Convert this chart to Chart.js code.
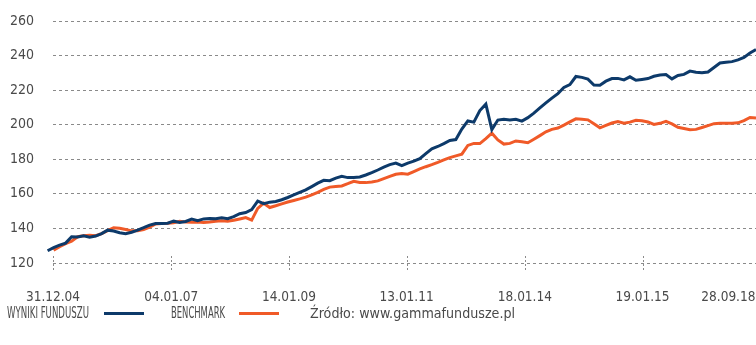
<!DOCTYPE html>
<html lang="pl">
<head>
<meta charset="utf-8">
<title>Wyniki funduszu</title>
<script src="https://cdn.jsdelivr.net/npm/chart.js@4"></script>
<style>
    html, body {
        margin: 0;
        padding: 0;
        background: #fff;
        overflow: hidden;
    }
    .wrap {
        position: relative;
        width: 756px;
        height: 345px;
    }
    #fundChart {
        position: absolute;
        left: 0;
        top: 0;
    }
    .legend {
        position: absolute;
        top: 303px;
        left: 0;
        width: 756px;
        height: 20px;
        font-family: 'DejaVu Sans Condensed', 'Liberation Sans Narrow', sans-serif;
        font-size: 13.5px;
        color: #4a4a4a;
    }
    .legend span {
        position: absolute;
        top: 0;
        line-height: 20px;
        white-space: nowrap;
        transform-origin: 0 50%;
    }
    .legend span.caps {
        font-size: 15px;
    }
    .legend i {
        position: absolute;
        top: 9px;
        height: 3px;
        width: 40px;
    }
</style>
</head>
<body>
<div class="wrap">
    <canvas id="fundChart" width="756" height="312"></canvas>
    <div class="legend">
        <span class="caps" style="left:7px" data-w="82">WYNIKI FUNDUSZU</span>
        <i style="left:104px;background:#0d3a6a"></i>
        <span class="caps" style="left:171px" data-w="54">BENCHMARK</span>
        <i style="left:239px;background:#f05a28"></i>
        <span style="left:310px" data-w="205">Źródło: www.gammafundusze.pl</span>
    </div>
</div>
<script>
// Axis dates and where they sit along the sample index
const dateLabels = ['31.12.04', '04.01.07', '14.01.09', '13.01.11', '18.01.14', '19.01.15', '28.09.18'];
const datePositions = [0.9, 20.6, 40.2, 59.8, 79.5, 99.1, 113.4];
const markedDates = 6; // the last date has no tick mark

const yTicks = [120, 140, 160, 180, 200, 220, 240, 260];

// Fund results (index values)
const fundValues = [
    127.1, 128.9, 130.3, 131.5, 135.2, 135.1, 135.8, 134.9, 135.6, 137.0,
    139.0, 138.5, 137.5, 137.0, 137.8, 139.0, 140.4, 141.9, 142.8, 142.9,
    143.0, 144.2, 143.4, 144.0, 145.4, 144.5, 145.5, 145.8, 145.6, 146.1,
    145.6, 146.8, 148.5, 149.2, 150.9, 155.8, 154.3, 155.2, 155.6, 156.6,
    157.9, 159.4, 160.9, 162.3, 164.2, 166.2, 167.8, 167.6, 169.1, 170.1,
    169.4, 169.5, 169.8, 170.9, 172.3, 173.8, 175.5, 176.9, 177.8, 176.3,
    177.8, 178.9, 180.4, 183.3, 186.1, 187.4, 189.1, 190.9, 191.4, 197.5,
    202.2, 201.5, 208.2, 211.9, 197.2, 202.7, 203.1, 202.7, 203.1, 202.1,
    204.1, 206.7, 209.7, 212.6, 215.4, 218.0, 221.6, 223.2, 227.9, 227.4,
    226.4, 223.0, 222.9, 225.2, 226.7, 226.8, 225.9, 227.7, 225.7, 226.2,
    226.7, 228.0, 228.7, 229.0, 226.5, 228.5, 229.1, 231.0, 230.3, 230.0,
    230.5, 233.1, 235.7, 236.1, 236.5, 237.5, 238.9, 241.5, 243.5
];

// Benchmark (index values)
const benchmarkValues = [
    null, 127.4, 129.4, 131.2, 132.6, 135.2, 135.8, 136.0, 135.8, 137.0,
    138.7, 140.4, 140.1, 139.4, 138.6, 138.7, 139.4, 140.8, 142.6, 142.8,
    143.0, 143.3, 144.1, 143.7, 143.6, 143.7, 143.4, 143.7, 144.2, 144.4,
    144.1, 144.7, 145.5, 146.3, 144.8, 151.6, 154.6, 152.1, 153.1, 154.2,
    155.3, 156.2, 157.1, 158.1, 159.4, 160.9, 162.6, 163.9, 164.3, 164.6,
    165.9, 167.3, 166.6, 166.5, 166.9, 167.5, 168.8, 170.1, 171.3, 171.8,
    171.4, 172.9, 174.4, 175.7, 176.9, 178.2, 179.6, 181.0, 182.0, 183.0,
    188.0, 189.2, 189.1, 192.0, 195.1, 191.2, 188.8, 189.2, 190.6, 190.2,
    189.6, 191.6, 193.7, 195.9, 197.3, 198.1, 199.8, 201.6, 203.4, 203.2,
    202.8, 200.5, 198.2, 199.6, 201.0, 201.8, 200.9, 201.5, 202.6, 202.3,
    201.6, 200.2, 200.8, 201.9, 200.5, 198.5, 197.8, 197.1, 197.3, 198.4,
    199.5, 200.6, 200.8, 200.9, 200.9, 201.1, 202.4, 204.2, 203.9
];

const FONT = "'DejaVu Sans Condensed', 'Liberation Sans Narrow', sans-serif";
const TEXT_COLOR = '#4a4a4a';

const toPoints = values => values.map((v, i) => ({ x: i, y: v }));

// Squeeze legend captions to their set widths
document.querySelectorAll('.legend span').forEach(el => {
    const target = parseFloat(el.dataset.w);
    const w = el.getBoundingClientRect().width;
    if (w > 0) el.style.transform = 'scaleX(' + (target / w).toFixed(3) + ')';
});

// Short dashed marks crossing the bottom gridline at each date
const dateTickMarks = {
    id: 'dateTickMarks',
    beforeDatasetsDraw(chart) {
        const { ctx, chartArea, scales } = chart;
        ctx.save();
        ctx.strokeStyle = '#8a8a8a';
        ctx.lineWidth = 1;
        ctx.setLineDash([2, 2]);
        for (let i = 0; i < markedDates; i++) {
            const x = Math.round(scales.x.getPixelForValue(datePositions[i])) + 0.5;
            ctx.beginPath();
            ctx.moveTo(x, chartArea.bottom - 7);
            ctx.lineTo(x, chartArea.bottom + 7);
            ctx.stroke();
        }
        ctx.restore();
    }
};

new Chart(document.getElementById('fundChart'), {
    type: 'line',
    data: {
        datasets: [
            {
                label: 'WYNIKI FUNDUSZU',
                data: toPoints(fundValues),
                borderColor: '#0d3a6a',
                borderWidth: 3,
                pointRadius: 0,
                tension: 0,
                clip: false,
                order: 1
            },
            {
                label: 'BENCHMARK',
                data: toPoints(benchmarkValues),
                borderColor: '#f05a28',
                borderWidth: 3,
                pointRadius: 0,
                tension: 0,
                clip: false,
                order: 2
            }
        ]
    },
    options: {
        responsive: false,
        animation: false,
        events: [],
        layout: {
            padding: { top: 21, left: 0, right: 0, bottom: 0 }
        },
        plugins: {
            legend: { display: false },
            tooltip: { enabled: false }
        },
        scales: {
            x: {
                type: 'linear',
                min: 0.9,
                max: fundValues.length - 1,
                grid: { display: false },
                border: { display: false },
                afterBuildTicks: scale => {
                    scale.ticks = datePositions.map(v => ({ value: v }));
                },
                afterFit: scale => {
                    scale.height = 49;
                    scale.paddingLeft = 0;
                    scale.paddingRight = 0;
                },
                ticks: {
                    autoSkip: false,
                    maxRotation: 0,
                    padding: 18,
                    color: TEXT_COLOR,
                    font: { family: FONT, size: 13.5 },
                    callback: value => dateLabels[datePositions.indexOf(value)]
                }
            },
            y: {
                min: 120,
                max: 260,
                afterBuildTicks: scale => {
                    scale.ticks = yTicks.map(v => ({ value: v }));
                },
                afterFit: scale => {
                    scale.width = 53;
                    scale.paddingTop = 0;
                },
                grid: {
                    color: '#8a8a8a',
                    lineWidth: 1,
                    drawTicks: false
                },
                border: { display: false, dash: [3, 3] },
                ticks: {
                    padding: 19,
                    color: TEXT_COLOR,
                    font: { family: FONT, size: 14 }
                }
            }
        }
    },
    plugins: [dateTickMarks]
});
</script>
</body>
</html>
